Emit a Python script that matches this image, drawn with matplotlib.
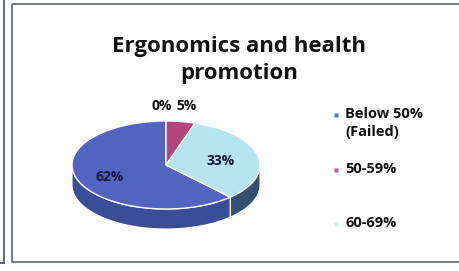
import matplotlib.pyplot as plt
import numpy as np
from matplotlib.patches import Polygon, Rectangle

plt.rcParams['font.family'] = ['Open Sans', 'DejaVu Sans']

# data
title = "Ergonomics and health\npromotion"
categories = ["Below 50%\n(Failed)", "50-59%", "60-69%", "70% and above"]
values = [62, 5, 33, 0]
top_colors = ["#5064c0", "#b3447e", "#b4e4ee", "#9bbb59"]
side_colors = ["#3a4e98", "#7e2a58", "#34506e", "#6f8a3e"]
legend_colors = ["#3a7bd5", "#c05598", "#cfeef2"]
legend_shown = 3          # the fourth entry is cut off in the original

# clockwise order of slices starting from the blue start angle
draw_order = [0, 3, 1, 2]

# pie geometry in pixel units
cx, cy, rx, ry, depth = 166, 165, 94, 44, 20
start = -46.8   # parametric angle (deg) where the first slice begins

fig = plt.figure(figsize=(4.59, 2.71), dpi=100)
ax = fig.add_axes([0, 0, 1, 1])
ax.set_xlim(0, 459)
ax.set_ylim(271, 0)
ax.axis('off')

# frame of the scanned chart
ax.add_patch(Rectangle((12, 4), 460, 258, fill=False, ec="#6b6f80", lw=1.3))
ax.plot([4, 4], [0, 263], color="#5a5e70", lw=1.3)
ax.plot([0, 4], [263, 263], color="#5a5e70", lw=1.3)


def pt(t, dz=0.0, r=1.0):
    t = np.radians(t)
    return cx + r * rx * np.cos(t), cy - r * ry * np.sin(t) + dz


total = sum(values)
spans = {}
a = start + 360
for i in draw_order:
    sweep = values[i] / total * 360
    spans[i] = (a, a - sweep)
    a -= sweep

# side walls (front half only)
for i in draw_order:
    t0, t1 = spans[i]
    if t0 == t1:
        continue
    ts = np.linspace(t1, t0, 200)
    ts = ts[np.sin(np.radians(ts)) <= 0]
    if len(ts) < 2:
        continue
    xs, ys = pt(ts)
    xb, yb = pt(ts[::-1], depth)
    poly = np.column_stack([np.r_[xs, xb], np.r_[ys, yb]])
    ax.add_patch(Polygon(poly, closed=True, fc=side_colors[i], ec="white", lw=0.8))

# top faces
for i in draw_order:
    t0, t1 = spans[i]
    if t0 == t1:
        continue
    ts = np.linspace(t0, t1, 200)
    xs, ys = pt(ts)
    poly = np.column_stack([np.r_[cx, xs], np.r_[cy, ys]])
    ax.add_patch(Polygon(poly, closed=True, fc=top_colors[i], ec="white", lw=1.0))

# percentage labels
lab_kw = dict(va='center', fontsize=10, fontweight='bold')
for i in draw_order:
    t0, t1 = spans[i]
    mid = (t0 + t1) / 2
    lab = f"{values[i]}%"
    if values[i] == 0:
        x, y = pt(mid, r=1.35)
        ax.text(x + 6, y, lab, ha='right', color="#111111", **lab_kw)
    elif values[i] < 10:
        x, y = pt(mid, r=1.35)
        ax.text(x + 1, y, lab, ha='center', color="#111111", **lab_kw)
    else:
        x, y = pt(mid, r=0.62)
        ax.text(x - 2, y + 2, lab, ha='center', color="#1a1a3a", **lab_kw)

ax.text(239, 60, title, ha='center', va='center', fontsize=16,
        fontweight='bold', color="#111111", linespacing=1.4)

# legend
leg_y = [115, 170, 224]
for i in range(legend_shown):
    ax.plot(336, leg_y[i], marker='s', ms=3.5, color=legend_colors[i], mec='none')
    ax.text(345, leg_y[i] - 8, categories[i], ha='left', va='top', fontsize=10.5,
            fontweight='bold', color="#111111", linespacing=1.35)

fig.savefig("out.png", dpi=100, facecolor="white")
